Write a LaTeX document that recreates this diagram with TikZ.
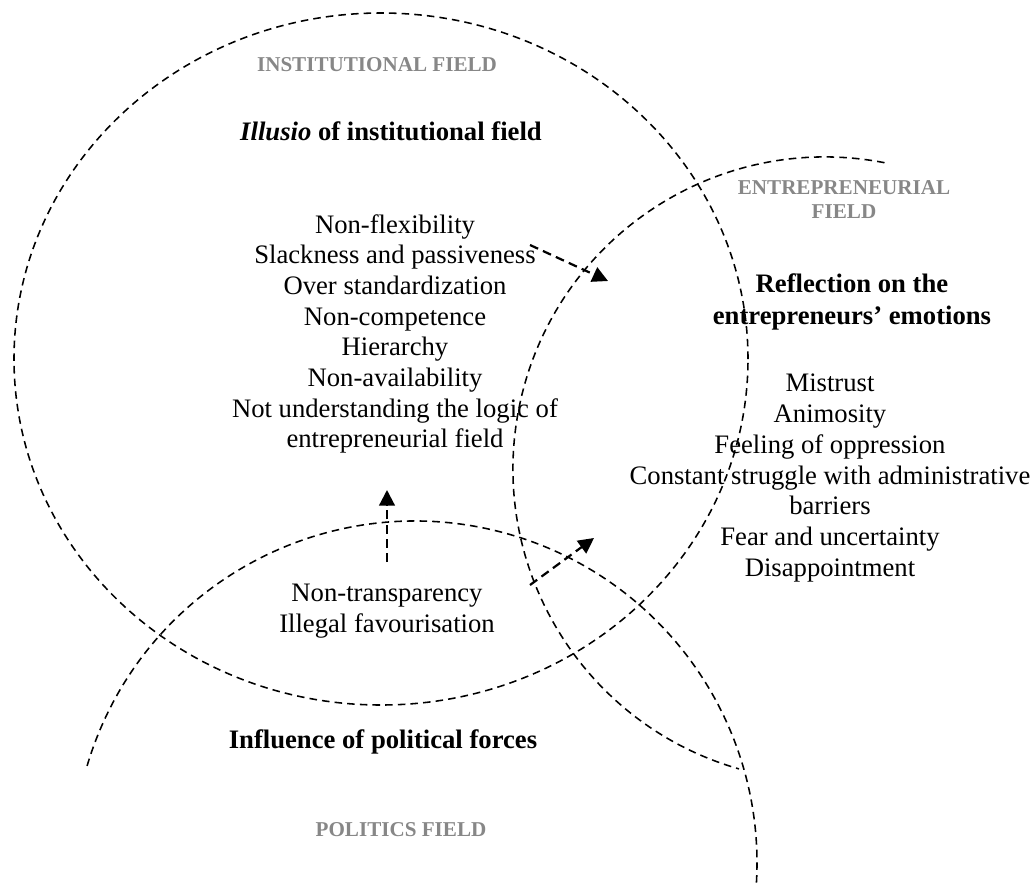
\documentclass[tikz,border=0pt]{standalone}
\usepackage{fontspec}
\setmainfont{Liberation Serif}
\usetikzlibrary{arrows.meta}
\definecolor{fieldgray}{gray}{0.53}

\begin{document}
\begin{tikzpicture}[
    x=0.45pt, y=0.45pt,
    field/.style={dash pattern=on 3.4pt off 2.3pt, line width=0.7pt},
    fieldname/.style={font=\fontsize{9.5}{10.8}\selectfont\bfseries, text=fieldgray,
                      align=center, inner sep=0pt},
    heading/.style={font=\fontsize{12}{14.4}\selectfont\bfseries, align=center, inner sep=0pt},
    itemlist/.style={font=\fontsize{12}{13.8}\selectfont, align=center, inner sep=0pt},
    arr/.style={-{Triangle[length=7pt, width=7pt]}, line width=1pt,
                dash pattern=on 4pt off 2.4pt}
  ]
  \useasboundingbox (0,0) rectangle (1034,-886);

  % the three fields
  \draw[field] (381,-359) ellipse [x radius=367, y radius=346];
  \draw[field] (884.5,-162.7) arc [start angle=79, end angle=254, radius=312];
  \draw[field] (87.1,-765.9) arc [start angle=163.5, end angle=-4, radius=342];

  \node[fieldname] (instname) at (377,-65) {INSTITUTIONAL FIELD};
  \node[fieldname] (entrname) at (844,-200) {ENTREPRENEURIAL\\FIELD};
  \node[fieldname] (polname) at (401,-830) {POLITICS FIELD};

  \node[heading] (illusio) at (391,-131) {\textit{Illusio} of institutional field};
  \node[itemlist] (instlist) at (395,-334) {Non-flexibility\\Slackness and passiveness\\
    Over standardization\\Non-competence\\Hierarchy\\Non-availability\\
    Not understanding the logic of\\entrepreneurial field};

  \node[heading] (reflect) at (852,-302) {Reflection on the\\entrepreneurs' emotions};
  \node[itemlist] (emolist) at (830,-478) {Mistrust\\Animosity\\Feeling of oppression\\
    Constant struggle with administrative\\barriers\\Fear and uncertainty\\Disappointment};

  \node[itemlist] (pollist) at (387,-611) {Non-transparency\\Illegal favourisation};
  \node[heading] (influence) at (383,-742) {Influence of political forces};

  % influences between the fields
  \coordinate (instout) at (530,-245);
  \coordinate (entrin) at (608,-281);
  \coordinate (polup) at (387,-562);
  \coordinate (instin) at (387,-490);
  \coordinate (polout) at (530,-585);
  \coordinate (entrin2) at (594,-538);

  \draw[arr] (instout) -- (entrin);
  \draw[arr] (polup) -- (instin);
  \draw[arr] (polout) -- (entrin2);

\end{tikzpicture}
\end{document}
